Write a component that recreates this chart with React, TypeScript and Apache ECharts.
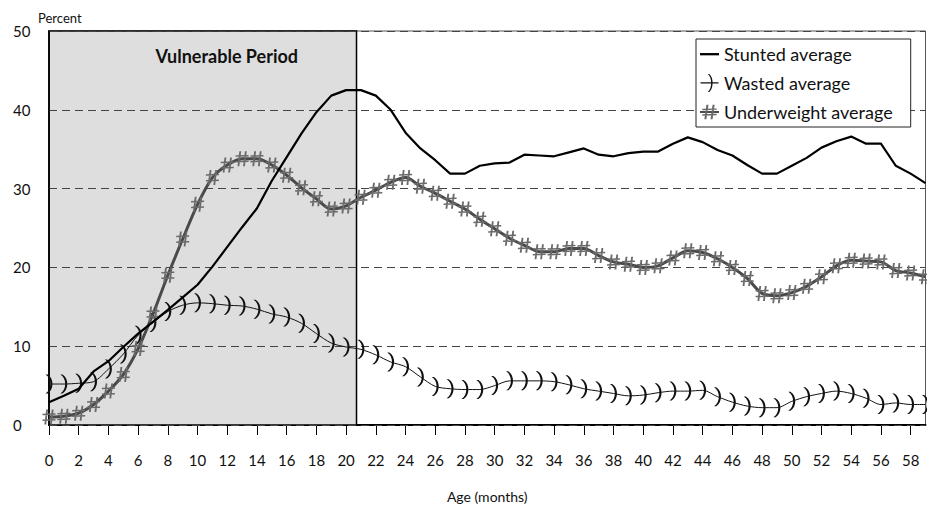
import React, { useEffect, useRef } from "react";
import * as echarts from "echarts";

// Age in months
const AGES = [
  0, 1, 2, 3, 4, 5, 6, 7, 8, 9, 10, 11, 12, 13, 14, 15, 16, 17, 18, 19,
  20, 21, 22, 23, 24, 25, 26, 27, 28, 29, 30, 31, 32, 33, 34, 35, 36, 37, 38, 39,
  40, 41, 42, 43, 44, 45, 46, 47, 48, 49, 50, 51, 52, 53, 54, 55, 56, 57, 58, 59,
];

const STUNTED = [
  2.9, 3.7, 4.6, 6.8, 8.1, 9.9, 11.6, 13.1, 14.6, 16.2, 17.8, 20.1, 22.6, 25.1, 27.5, 31.0, 34.0, 37.0, 39.7, 41.8,
  42.5, 42.5, 41.8, 40.0, 37.1, 35.1, 33.6, 31.9, 31.9, 32.9, 33.2, 33.3, 34.3, 34.2, 34.1, 34.6, 35.1, 34.3, 34.1, 34.5,
  34.7, 34.7, 35.7, 36.5, 35.9, 34.9, 34.2, 33.0, 31.9, 31.9, 32.9, 33.9, 35.2, 36.0, 36.6, 35.7, 35.7, 32.9, 31.9, 30.7,
];

const WASTED = [
  5.2, 5.2, 5.3, 5.5, 7.1, 9.0, 11.4, 13.0, 14.4, 15.2, 15.5, 15.4, 15.2, 15.1, 14.7, 14.1, 13.7, 12.9, 11.6, 10.4,
  9.9, 9.6, 8.9, 8.0, 7.4, 6.1, 4.9, 4.6, 4.5, 4.5, 5.0, 5.6, 5.6, 5.6, 5.5, 5.1, 4.6, 4.3, 4.0, 3.7,
  3.8, 4.1, 4.3, 4.3, 4.4, 3.6, 2.9, 2.4, 2.2, 2.2, 3.0, 3.6, 4.0, 4.3, 4.0, 3.4, 2.6, 2.8, 2.6, 2.6,
];

const UNDERWEIGHT = [
  1.0, 1.1, 1.5, 2.6, 4.3, 6.4, 9.7, 14.1, 19.0, 23.6, 28.0, 31.4, 33.0, 33.8, 33.8, 33.0, 31.7, 30.1, 28.7, 27.4,
  27.8, 28.9, 29.8, 30.8, 31.4, 30.3, 29.4, 28.4, 27.4, 26.1, 24.9, 23.7, 22.8, 22.0, 22.0, 22.4, 22.4, 21.5, 20.7, 20.4,
  20.0, 20.2, 21.2, 22.1, 21.9, 21.1, 20.0, 18.6, 16.7, 16.4, 16.8, 17.6, 18.8, 20.2, 20.9, 20.8, 20.7, 19.6, 19.3, 18.8,
];

const SERIES_NAMES = ["Stunted average", "Wasted average", "Underweight average"];
const VULNERABLE_START = 0;
const VULNERABLE_END = 20.7;
const VULNERABLE_LABEL = "Vulnerable Period";
const Y_TITLE = "Percent";
const X_TITLE = "Age (months)";

const HASH_SYMBOL =
  "path://M4,0 L6,0 L4,16 L2,16 Z M10,0 L12,0 L10,16 L8,16 Z M0,4.5 L14,4 L14,5.6 L0,6.1 Z M0,10.5 L14,10 L14,11.6 L0,12.1 Z";
// ")" shaped crescent with fairly even thickness
const PAREN_SYMBOL = "path://M1.6,0 C6.5,4 6.5,16 1.6,20 L0,20 C4.9,16 4.9,4 0,0 Z";
// legend icons (M points set the icon box)
const BAR_ICON = "path://M0,0 M0,8 L20,8 L20,10.4 L0,10.4 Z M20,18";
const PAREN_ICON =
  "path://M0,9.3 L20,9.3 L20,10.5 L0,10.5 Z M9.8,0 C14.7,4 14.7,16 9.8,20 L8.2,20 C13.1,16 13.1,4 8.2,0 Z";

const pairs = (vals: number[]) => AGES.map((a, i) => [a, vals[i]]);

export default function App() {
  const ref = useRef<HTMLDivElement>(null);
  useEffect(() => {
    if (!ref.current) return;
    const chart = echarts.init(ref.current, undefined, { renderer: "svg" });
    const font = "Lato";
    chart.setOption({
      animation: false,
      backgroundColor: "#ffffff",
      title: {
        text: Y_TITLE,
        left: 33,
        top: 6,
        textStyle: { fontFamily: font, fontSize: 13, fontWeight: "normal", color: "#111" },
      },
      grid: {
        left: 49,
        right: 1.5,
        top: 31,
        bottom: 81,
        show: true,
        borderColor: "#555",
        borderWidth: 1,
        backgroundColor: "transparent",
      },
      legend: {
        data: [
          { name: SERIES_NAMES[0], icon: BAR_ICON },
          { name: SERIES_NAMES[1], icon: PAREN_ICON },
          { name: SERIES_NAMES[2] },
        ],
        orient: "vertical",
        left: 696,
        top: 39,
        padding: [6, 18, 6, 3],
        itemGap: 11,
        itemWidth: 19,
        itemHeight: 18,
        backgroundColor: "#ffffff",
        borderColor: "#222",
        borderWidth: 1,
        borderRadius: 0,
        textStyle: { fontFamily: font, fontSize: 18, color: "#111", lineHeight: 18 },
      },
      xAxis: {
        type: "value",
        min: 0,
        max: 59,
        interval: 2,
        name: X_TITLE,
        nameLocation: "middle",
        nameGap: 64,
        nameTextStyle: { fontFamily: font, fontSize: 14, color: "#111" },
        axisLine: { show: true, lineStyle: { color: "#000", width: 2 } },
        axisTick: { show: true, length: 10, lineStyle: { color: "#000", width: 1 } },
        axisLabel: {
          showMaxLabel: false,
          margin: 27,
          fontFamily: font,
          fontSize: 15,
          color: "#111",
        },
        splitLine: { show: false },
      },
      yAxis: {
        type: "value",
        min: 0,
        max: 50,
        interval: 10,
        z: 2,
        axisLine: { show: true, lineStyle: { color: "#000", width: 1.5 } },
        axisTick: { show: false },
        axisLabel: { align: "left", margin: 36, fontFamily: font, fontSize: 15, color: "#111" },
        splitLine: { show: true, lineStyle: { color: "#444", width: 1, type: [8, 5] } },
      },
      series: [
        {
          name: "vulnerable",
          type: "line",
          z: 1,
          data: [],
          silent: true,
          markArea: {
            silent: true,
            z: 1,
            itemStyle: { color: "#dedede", borderColor: "#000", borderWidth: 1.5 },
            label: {
              show: true,
              position: "insideTop",
              distance: 17,
              offset: [24, 0],
              fontFamily: font,
              fontSize: 18,
              fontWeight: "bold",
              color: "#111",
            },
            data: [
              [
                { name: VULNERABLE_LABEL, xAxis: VULNERABLE_START, yAxis: 50 },
                { xAxis: VULNERABLE_END, yAxis: 0 },
              ],
            ],
          },
        },
        {
          name: SERIES_NAMES[1],
          type: "line",
          z: 3,
          data: pairs(WASTED),
          smooth: 0.3,
          symbol: PAREN_SYMBOL,
          symbolSize: [7, 19],
          showAllSymbol: true,
          color: "#111",
          lineStyle: { color: "#111", width: 1 },
          itemStyle: { color: "#111" },
        },
        {
          name: SERIES_NAMES[2],
          type: "line",
          z: 4,
          data: pairs(UNDERWEIGHT),
          smooth: 0.3,
          symbol: HASH_SYMBOL,
          symbolSize: [13, 15],
          showAllSymbol: true,
          color: "#5a5a5a",
          lineStyle: { color: "#4a4a4a", width: 3 },
          itemStyle: { color: "#6a6a6a" },
        },
        {
          name: SERIES_NAMES[0],
          type: "line",
          z: 5,
          data: pairs(STUNTED),
          symbol: "none",
          color: "#000",
          lineStyle: { color: "#000", width: 2.2 },
        },
      ],
    });
    return () => chart.dispose();
  }, []);
  return (
    <div
      ref={ref}
      style={{ position: "fixed", left: 0, top: 0, width: 927, height: 508 }}
    />
  );
}
